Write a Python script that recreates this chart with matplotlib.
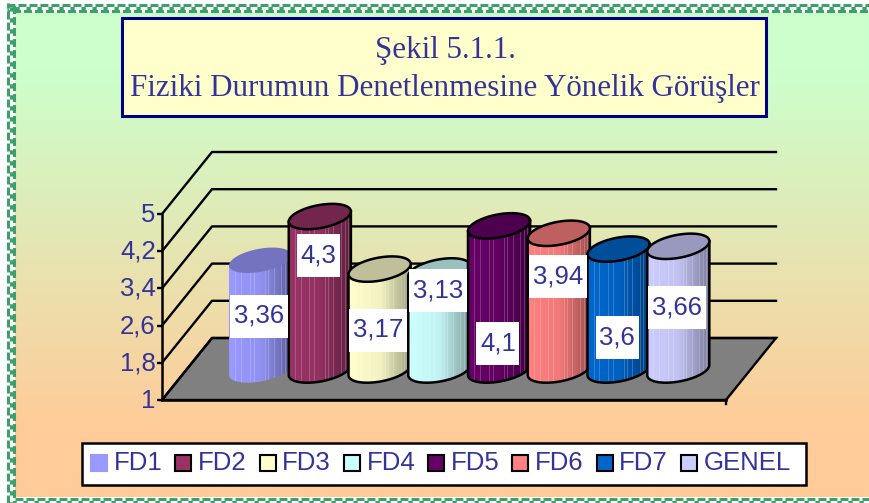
"""Cylinder chart: Fiziki Durumun Denetlenmesine Yonelik Gorusler."""
import matplotlib

matplotlib.use("Agg")
import matplotlib.pyplot as plt
import numpy as np
from matplotlib.colors import LinearSegmentedColormap, to_rgb
from matplotlib.patches import Polygon, Rectangle
from matplotlib.transforms import ScaledTranslation

categories = ["FD1", "FD2", "FD3", "FD4", "FD5", "FD6", "FD7", "GENEL"]
values = [3.36, 4.3, 3.17, 3.13, 4.1, 3.94, 3.6, 3.66]
colors = ["#9999FF", "#993366", "#FFFFCC", "#CCFFFF", "#660066", "#FF8080", "#0066CC", "#CCCCFF"]
tick_values = [1, 1.8, 2.6, 3.4, 4.2, 5]
tick_labels = ["1", "1,8", "2,6", "3,4", "4,2", "5"]
title_lines = ["Şekil 5.1.1.", "Fiziki Durumun Denetlenmesine Yönelik Görüşler"]

# layout, in reference pixels
W, H = 870, 503
TXT = "#333399"
SANS = "Liberation Sans"
SERIF = "Liberation Serif"
PX_X = 59.75  # one category
PX_Y = 46.5  # one value unit
DEPTH_X, DEPTH_Y = 50 / PX_X, 62 / PX_Y
BAR_SHIFT = 30 / PX_Y  # cylinders stand in the middle of the floor
label_y = [316, 255.5, 330, 290.5, 343.5, 276.5, 337.5, 307.5]
streaks = [0.1, 0.19, 0.33, 0.41, 0.58, 0.63, 0.72, 0.84, 0.9, 0.95]

fig = plt.figure(figsize=(W / 100, H / 100), dpi=100)


def page_axes(z):
    a = fig.add_axes([0, 0, 1, 1], zorder=z)
    a.set_xlim(0, W)
    a.set_ylim(H, 0)
    a.axis("off")
    a.patch.set_alpha(0)
    return a


bg = page_axes(0)
fg = page_axes(2)

# page background and border
grad = LinearSegmentedColormap.from_list(
    "bg", [(0, "#CCFFCC"), (0.12, "#CCFFCC"), (0.85, "#FFCC99"), (1, "#FFCC99")]
)
bg.imshow(np.linspace(0, 1, 256)[:, None], cmap=grad, aspect="auto", extent=(15, W, 497, 12), zorder=0)
bg.set_xlim(0, W)
bg.set_ylim(H, 0)
GREEN = "#3D9F6A"
rows = [(0, (0, (2.6, 1.0))), (3, (1, (1.4, 2.2))), (6, (1.8, (2.6, 1.0)))]
for off, ls in rows:
    bg.plot([8.5 + off, 8.5 + off], [H, 3], color=GREEN, lw=2.2, ls=ls, zorder=1)
    bg.plot([7, W], [4.5 + off, 4.5 + off], color=GREEN, lw=2.2, ls=ls, zorder=1)
    bg.plot([15, W], [498.5 + off, 498.5 + off], color=GREEN, lw=2.2, ls=ls, zorder=1)

# title box
bg.add_patch(Rectangle((122, 18), 644, 98, fc="#FFFFCC", ec="#000080", lw=2.2, zorder=2))
bg.text(445, 50, title_lines[0], family=SERIF, fontsize=22.3, color=TXT, ha="center", va="center", zorder=3)
bg.text(445, 88, title_lines[1], family=SERIF, fontsize=22.3, color=TXT, ha="center", va="center", zorder=3)

# legend box
bg.add_patch(Rectangle((82, 443), 724, 42, fc="white", ec="black", lw=1.8, zorder=2))
for i, (name, c) in enumerate(zip(categories, colors)):
    x = 91 + 84.3 * i
    ec = c if i == 0 else "black"
    bg.add_patch(Rectangle((x, 455), 16, 16, fc=c, ec=ec, lw=1.5, zorder=3))
    bg.text(x + 22.5, 463.5, name, family=SANS, fontsize=18.5, color=TXT, va="center", zorder=3)

# value axes: left edge and baseline are the front of the chart floor
ax = fig.add_axes([162 / W, 1 - 400 / H, 564 / W, 186 / H], zorder=1)
ax.patch.set_alpha(0)
ax.set_xlim(-67 / PX_X, 497 / PX_X)
ax.set_ylim(1, 5)
x0, x1 = ax.get_xlim()
for s in ("top", "right"):
    ax.spines[s].set_visible(False)
for s in ("left", "bottom"):
    ax.spines[s].set_linewidth(1.8)
ax.set_xticks([])
ax.set_yticks(tick_values, tick_labels, family=SANS, fontsize=18.5, color=TXT)
ax.tick_params(axis="y", length=3.5, width=1.7, pad=1)
nudge = ScaledTranslation(0, 2 / 100, fig.dpi_scale_trans)
for lbl in ax.get_yticklabels():
    lbl.set_transform(lbl.get_transform() + nudge)

# floor and wall lines
floor = [(x0, 1), (x0 + DEPTH_X, 1 + DEPTH_Y), (x1 + DEPTH_X, 1 + DEPTH_Y), (x1, 1)]
ax.add_patch(Polygon(floor, fc="#808080", ec="black", lw=1.7, clip_on=False, zorder=1))
for t in tick_values:
    ax.plot([x0, x0 + DEPTH_X, x1 + DEPTH_X], [t, t + DEPTH_Y, t + DEPTH_Y],
            color="black", lw=1.7, clip_on=False, zorder=1.5)
ax.plot([x1, x1], [1, 1 - 4 / PX_Y], color="black", lw=1.7, clip_on=False, zorder=1.5)

TILT = 0.11
MINOR = 0.25


def ring(cx, cy):
    # slanted ellipse in data units, right side sits higher
    t = np.linspace(0, 2 * np.pi, 80)
    return np.column_stack([cx + 0.52 * np.cos(t), cy + TILT * np.cos(t) + MINOR * np.sin(t)])


for i, (v, c) in enumerate(zip(values, colors)):
    cx = i + 0.52
    base = 1 + BAR_SHIFT
    top = v + BAR_SHIFT
    rgb = np.array(to_rgb(c))
    low = ring(cx, base)
    high = ring(cx, top)
    lower = low[(low[:, 1] - (base + TILT * (low[:, 0] - cx) / 0.52)) <= 0]
    lower = lower[np.argsort(lower[:, 0])]
    upper = np.array([[cx + 0.52, top + TILT], [cx - 0.52, top - TILT]])
    body = Polygon(np.vstack([lower, upper]), fc="none", ec="none", zorder=2 + i, clip_on=False)
    ax.add_patch(body)
    cmap = LinearSegmentedColormap.from_list(f"c{i}", [rgb, rgb * 0.95, rgb * 0.62])
    im = ax.imshow(np.linspace(0, 1, 64)[None, :], cmap=cmap, aspect="auto", zorder=2 + i,
                   extent=(cx - 0.52, cx + 0.52, base - 0.3, top + 0.2))
    im.set_clip_path(body)
    for s in streaks:
        sx = cx - 0.52 + 1.04 * s
        ln, = ax.plot([sx, sx], [base - 0.3, top + 0.2], color="white", lw=0.7, alpha=0.2, zorder=2 + i)
        ln.set_clip_path(body)
    ec = "none" if i == 0 else "black"
    ax.add_patch(Polygon(np.vstack([lower, upper]), fc="none", ec=ec, lw=1.8, zorder=2.2 + i, clip_on=False))
    ax.add_patch(Polygon(high, fc=rgb * 0.75, ec=ec, lw=1.8, zorder=2.4 + i, clip_on=False))
ax.set_xlim(x0, x1)
ax.set_ylim(1, 5)

# value labels sit on white boxes above all cylinders
for i, (v, ly) in enumerate(zip(values, label_y)):
    px, _ = fg.transData.inverted().transform(ax.transData.transform((i + 0.5, 1)))
    txt = str(v).replace(".", ",")
    w = 58 if len(txt) == 4 else 43
    fg.add_patch(Rectangle((px - w / 2, ly - 21.5), w, 43, fc="white", ec="none"))
    fg.text(px, ly, txt, family=SANS, fontsize=18.5, color=TXT, ha="center", va="center")

fig.savefig("out.png", dpi=100)
